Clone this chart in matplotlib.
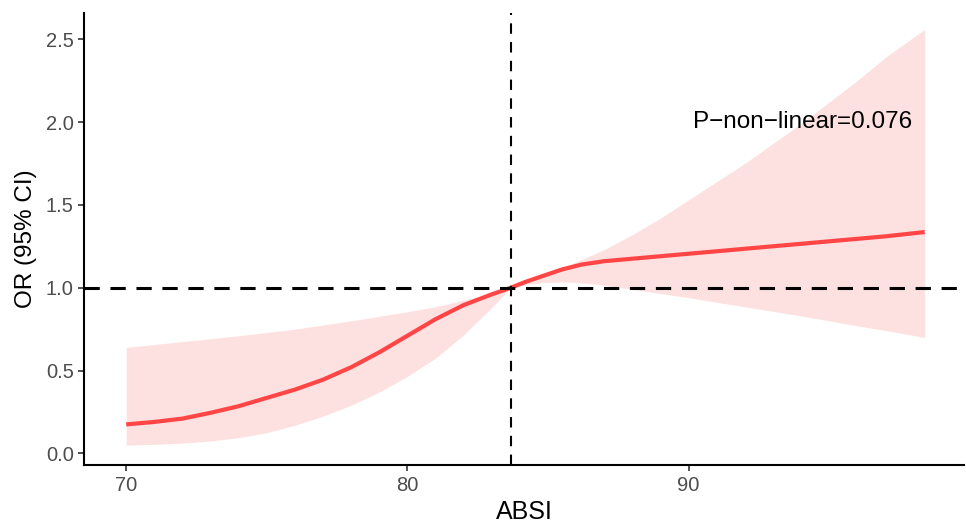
import numpy as np
import matplotlib.pyplot as plt

plt.rcParams['font.family'] = ['Liberation Sans', 'DejaVu Sans']

# spline estimate
absi = [70, 71, 72, 73, 74, 75, 76, 77, 78, 79, 80, 81, 82, 83, 83.68,
        84.2, 84.8, 85.5, 86.2, 87, 88, 89, 90, 91, 92, 93, 94, 95, 96, 97, 98.4]
or_mid = [0.175, 0.19, 0.21, 0.245, 0.285, 0.335, 0.385, 0.445, 0.52, 0.61,
          0.71, 0.81, 0.895, 0.96, 1.0,
          1.035, 1.07, 1.11, 1.14, 1.16, 1.175, 1.19, 1.205, 1.22, 1.235,
          1.25, 1.265, 1.28, 1.295, 1.31, 1.336]
or_upper = [0.64, 0.657, 0.675, 0.692, 0.71, 0.73, 0.75, 0.775, 0.80, 0.827,
            0.855, 0.885, 0.925, 0.965, 1.0,
            1.035, 1.07, 1.12, 1.17, 1.23, 1.32, 1.42, 1.53, 1.64, 1.75,
            1.87, 1.99, 2.12, 2.25, 2.39, 2.56]
or_lower = [0.05, 0.055, 0.062, 0.075, 0.095, 0.125, 0.17, 0.225, 0.29, 0.37,
            0.465, 0.575, 0.715, 0.88, 1.0,
            1.02, 1.03, 1.035, 1.03, 1.015, 0.99, 0.965, 0.94, 0.912, 0.885,
            0.857, 0.83, 0.80, 0.77, 0.742, 0.70]

ref_x = 83.68
p_text = 'P\u2212non\u2212linear=0.076'
xticks = [70, 80, 90]
yticks = [0.0, 0.5, 1.0, 1.5, 2.0, 2.5]

fig = plt.figure(figsize=(9.66, 5.28), dpi=100)
ax = fig.add_axes([0.087, 0.119, 0.911, 0.857])

ax.fill_between(absi, or_lower, or_upper, color='#FDE1E1', lw=0)
ax.plot(absi, or_mid, color='#FF4545', lw=3, solid_capstyle='butt')
ax.axhline(1.0, color='black', lw=2.2, ls=(0, (5, 3.5)))
ax.axvline(ref_x, color='black', lw=1.5, ls=(0, (5, 4)))

ax.text(97.95, 2.0, p_text, ha='right', va='center', fontsize=17.5)

ax.set_xlim(68.5, 99.8)
ax.set_ylim(-0.071, 2.66)
ax.set_xticks(xticks)
ax.set_yticks(yticks)
ax.set_yticklabels(['%.1f' % v for v in yticks])

for s in ['top', 'right']:
    ax.spines[s].set_visible(False)
for s in ['left', 'bottom']:
    ax.spines[s].set_linewidth(1.5)
ax.tick_params(direction='out', length=4, width=1.2, color='#333333',
               labelcolor='#4D4D4D', labelsize=14.5)

ax.set_xlabel('ABSI', fontsize=18, labelpad=4)
ax.set_ylabel('OR (95% CI)', fontsize=17.5, labelpad=6)

fig.savefig('out.png', dpi=100)
